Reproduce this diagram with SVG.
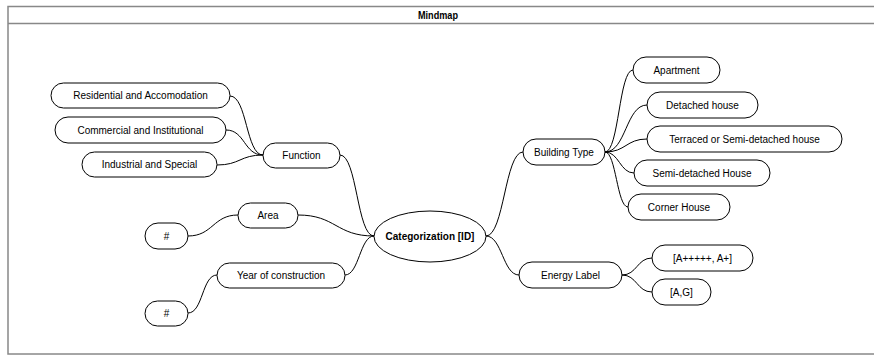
<svg xmlns="http://www.w3.org/2000/svg" width="874" height="356" viewBox="0 0 874 356">
<style>
.frame{fill:#fff;stroke:#888;stroke-width:1.5}
.n rect,.n ellipse{fill:#fff;stroke:#000;stroke-width:1}
.n text{font-family:"Liberation Sans",Arial,sans-serif;font-size:10px;fill:#000;text-anchor:middle;dominant-baseline:central}
.title{font-family:"Liberation Sans",Arial,sans-serif;font-size:10px;font-weight:bold;text-anchor:middle;dominant-baseline:central}
#edges path{fill:none;stroke:#000;stroke-width:1}
</style>
<rect width="874" height="356" fill="#fff"/>
<rect class="frame" x="8" y="6.5" width="884" height="347.5"/>
<line x1="8" y1="23.5" x2="874" y2="23.5" stroke="#888" stroke-width="1.5"/>
<text class="title" x="438" y="15.5" textLength="40" lengthAdjust="spacingAndGlyphs">Mindmap</text>
<g id="edges">
<path d="M263,155 C246,155 247,96 230,96"/>
<path d="M263,155 C244,155 245,130 226,130"/>
<path d="M263,155 C240,155 240,165 217,165"/>
<path d="M374,236 C357,236 357,155 340,155"/>
<path d="M374,236 C336,236 336,215 298,215"/>
<path d="M374,236 C360,236 359,275 345,275"/>
<path d="M238,215 C213,215 213,236 188,236"/>
<path d="M217,275 C202,275 203,313 188,313"/>
<path d="M486,236 C504,236 505,152 523,152"/>
<path d="M486,236 C502,236 503,275 519,275"/>
<path d="M605,152 C619,152 619,70 633,70"/>
<path d="M605,152 C626,152 626,105 647,105"/>
<path d="M605,152 C626,152 626,139 647,139"/>
<path d="M605,152 C619,152 620,173 634,173"/>
<path d="M605,152 C616,152 617,207 628,207"/>
<path d="M622,275 C637,275 637,258 652,258"/>
<path d="M622,275 C637,275 637,292 652,292"/>
</g>
<g id="center" class="n"><ellipse cx="430" cy="236.5" rx="56" ry="25.5"/><text x="430" y="236.5" font-weight="bold">Categorization [ID]</text></g>
<g id="function" class="n"><rect x="263" y="143" width="77" height="25" rx="12.5"/><text x="301.5" y="155.5">Function</text></g>
<g id="residential" class="n"><rect x="51" y="83" width="179" height="25" rx="12.5"/><text x="140.5" y="95.5">Residential and Accomodation</text></g>
<g id="commercial" class="n"><rect x="55" y="117" width="171" height="26" rx="13"/><text x="140.5" y="130">Commercial and Institutional</text></g>
<g id="industrial" class="n"><rect x="82" y="152" width="135" height="25" rx="12.5"/><text x="149.5" y="164.5">Industrial and Special</text></g>
<g id="area" class="n"><rect x="238" y="203" width="60" height="25" rx="12.5"/><text x="268" y="215.5">Area</text></g>
<g id="area-value" class="n"><rect x="145" y="223" width="43" height="26" rx="13"/><text x="166.5" y="236">#</text></g>
<g id="year" class="n"><rect x="217" y="263" width="128" height="25" rx="12.5"/><text x="281" y="275.5">Year of construction</text></g>
<g id="year-value" class="n"><rect x="145" y="301" width="43" height="25" rx="12.5"/><text x="166.5" y="313.5">#</text></g>
<g id="building-type" class="n"><rect x="523" y="139" width="82" height="26" rx="13"/><text x="564" y="152">Building Type</text></g>
<g id="apartment" class="n"><rect x="633" y="57" width="87" height="26" rx="13"/><text x="676.5" y="70">Apartment</text></g>
<g id="detached" class="n"><rect x="647" y="92" width="111" height="26" rx="13"/><text x="702.5" y="105">Detached house</text></g>
<g id="terraced" class="n"><rect x="647" y="126" width="195" height="26" rx="13"/><text x="744.5" y="139">Terraced or Semi-detached house</text></g>
<g id="semi-detached" class="n"><rect x="634" y="160" width="136" height="26" rx="13"/><text x="702" y="173">Semi-detached House</text></g>
<g id="corner" class="n"><rect x="628" y="194" width="102" height="26" rx="13"/><text x="679" y="207">Corner House</text></g>
<g id="energy-label" class="n"><rect x="519" y="262" width="103" height="26" rx="13"/><text x="570.5" y="275">Energy Label</text></g>
<g id="a-plus" class="n"><rect x="652" y="245" width="101" height="26" rx="13"/><text x="702.5" y="258">[A+++++, A+]</text></g>
<g id="a-g" class="n"><rect x="652" y="279" width="59" height="26" rx="13"/><text x="681.5" y="292">[A,G]</text></g>
</svg>
